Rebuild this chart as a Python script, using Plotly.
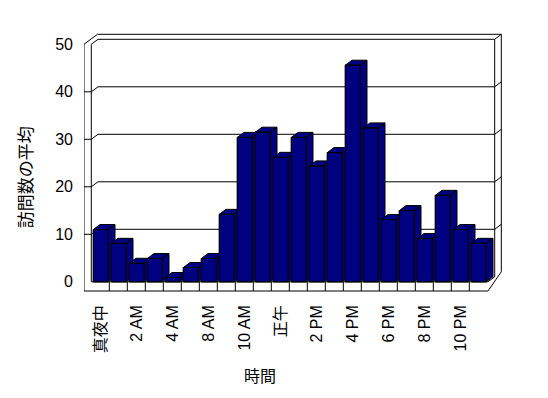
import plotly.graph_objects as go

# ---- data ----
categories = ["真夜中", "1 AM", "2 AM", "3 AM", "4 AM", "6 AM", "8 AM", "9 AM", "10 AM", "11 AM",
              "正午", "1 PM", "2 PM", "3 PM", "4 PM", "5 PM", "6 PM", "7 PM", "8 PM", "9 PM",
              "10 PM", "11 PM"]
visits = [11.0, 8.1, 3.9, 4.9, 0.9, 3.0, 4.9, 14.2, 30.4, 31.5, 26.2, 30.4,
          24.4, 27.2, 45.6, 32.4, 13.1, 15.0, 9.1, 18.2, 11.0, 8.1]
y_ticks = [0, 10, 20, 30, 40, 50]
x_title = "時間"
y_title = "訪問数の平均"

# ---- style / geometry (data units) ----
NAVY = "#000080"
FONT = "Liberation Sans, Noto Sans CJK JP, sans-serif"
W = 15 / 18          # bar width
DX = 6.7 / 18        # depth offset in x
DY = 5 / 4.75        # depth offset in y
L0, L1 = -0.933, -0.528
R0, R1 = 21.883, 22.25
RF = 21.51
FLOOR = -1.937
YMAX = 50

idx = list(range(len(categories)))

fig = go.Figure()
fig.add_trace(go.Bar(x=idx, y=visits, width=W, marker=dict(color=NAVY, line=dict(color="black", width=1)),
                     hoverinfo="skip", showlegend=False))

for i, v in zip(idx, visits):
    a, b = i - W / 2, i + W / 2
    xs = [a, b, b, a, a, None,
          a, b, b + DX, a + DX, a, None,
          b, b + DX, b + DX, b, b]
    ys = [0, 0, v, v, 0, None,
          v, v, v + DY, v + DY, v, None,
          0, DY, v + DY, v, 0]
    fig.add_trace(go.Scatter(x=xs, y=ys, mode="lines", fill="toself", fillcolor=NAVY,
                             line=dict(color="black", width=1), hoverinfo="skip", showlegend=False))

shapes = []
def seg(x0, y0, x1, y1):
    shapes.append(dict(type="line", xref="x", yref="y", x0=x0, y0=y0, x1=x1, y1=y1,
                       line=dict(color="black", width=1), layer="below"))

# left wall
seg(L0, YMAX, L0, FLOOR)
seg(L1, YMAX, L1, 0)
seg(L0, YMAX, L0 + 2 * DX, YMAX + 2 * DY)
seg(L1, YMAX, L1 + DX, YMAX + DY)
# top edges
seg(L0 + 2 * DX, YMAX + 2 * DY, R1, YMAX + 2 * DY)
seg(L1 + DX, YMAX + DY, R0, YMAX + DY)
seg(R0, YMAX + DY, R1, YMAX + 2 * DY)
# right edges
seg(R1, YMAX + 2 * DY, R1, 2 * DY)
seg(R0, YMAX + DY, R0, DY)
seg(R1, 2 * DY, RF, FLOOR)
seg(R0, DY, RF, 0)
# gridlines
for k in y_ticks[1:-1]:
    seg(L0, k, L1, k)
    seg(L1, k, L1 + DX, k + DY)
    seg(L1 + DX, k + DY, R0, k + DY)
    seg(R0, k + DY, R1, k + 2 * DY)
# floor
seg(L0, FLOOR, RF, FLOOR)
seg(L1, 0, RF, 0)
for k in range(len(categories) - 1):
    seg(k + 0.472, 0, k + 0.472, FLOOR)

fig.update_layout(
    width=548, height=398,
    margin=dict(l=84, r=38, t=30, b=103),
    paper_bgcolor="white", plot_bgcolor="white",
    font=dict(family=FONT, size=16, color="black"),
    shapes=shapes,
    xaxis=dict(range=[-0.9333, 22.7333], showgrid=False, zeroline=False, showline=False,
               tickmode="array", tickvals=idx[::2], ticktext=categories[::2],
               tickangle=-90, ticks="", ticklabelstandoff=6, fixedrange=True),
    yaxis=dict(range=[-2.779, 53.011], showgrid=False, zeroline=False, showline=False,
               tickmode="array", tickvals=y_ticks, ticks="", ticklabelstandoff=10, fixedrange=True),
    annotations=[
        dict(text=y_title, xref="paper", yref="paper", x=-0.1345, y=0.443, textangle=-90,
             showarrow=False, xanchor="center", yanchor="middle", font=dict(size=17)),
        dict(text=x_title, xref="paper", yref="paper", x=0.412, y=-0.309,
             showarrow=False, xanchor="center", yanchor="middle", font=dict(size=16)),
    ],
)

fig.write_html("out.html")
